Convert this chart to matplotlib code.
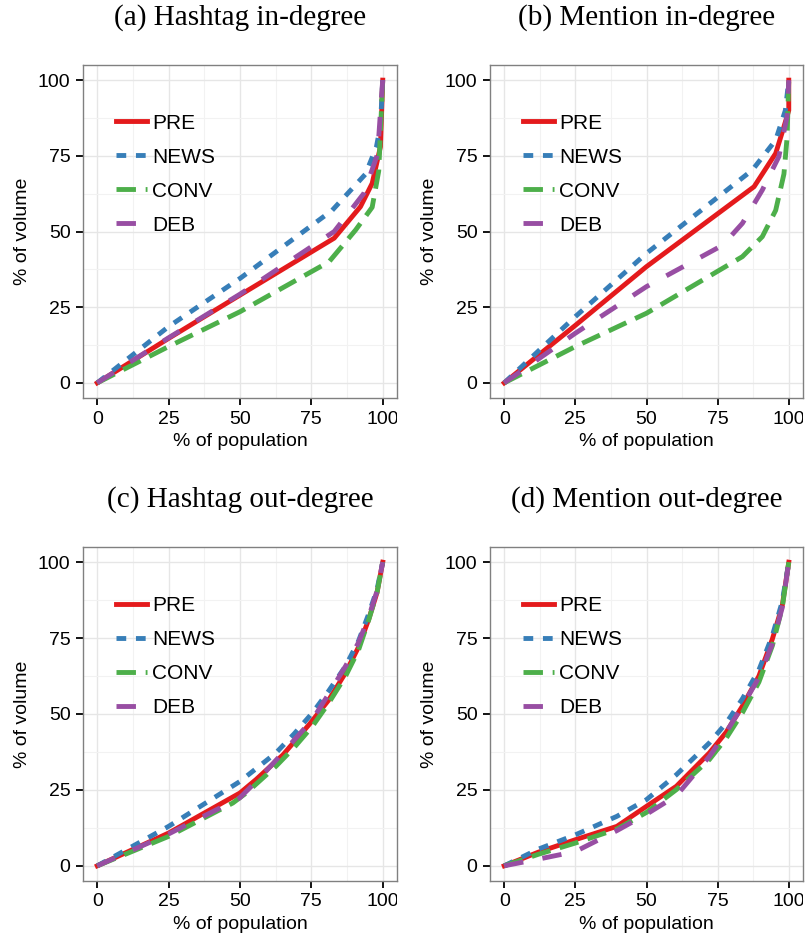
import matplotlib.pyplot as plt
from matplotlib.transforms import Bbox, TransformedBbox

# Lorenz-style curves: % of population (x) vs % of volume (y)
series = ["PRE", "NEWS", "CONV", "DEB"]
colors = ["#E41A1C", "#377EB8", "#4DAF4A", "#984EA3"]
styles = ["-", (0, (2, 2)), (0, (4, 2)), (0, (4, 4))]

# (a) Hashtag in-degree
a_pre_x = [0, 25, 50, 83, 92.2, 96.3, 99.2, 100]
a_pre_y = [0, 14.7, 29, 47.8, 58.2, 65.9, 78, 100]
a_news_x = [0, 25, 50, 82.3, 94, 97.8, 99.2, 100]
a_news_y = [0, 18.6, 34.5, 57, 69, 78, 85, 100]
a_conv_x = [0, 25, 50, 81.2, 90.5, 96.3, 98.6, 100]
a_conv_y = [0, 12, 23.5, 40, 50.5, 58, 70, 100]
a_deb_x = [0, 25, 50, 83, 93.4, 98.2, 99.6, 100]
a_deb_y = [0, 14.9, 29.3, 50, 62.6, 75.6, 95, 100]

# (b) Mention in-degree
b_pre_x = [0, 25, 50, 87.8, 95.4, 98.3, 100, 100]
b_pre_y = [0, 19, 38.4, 64.8, 75.8, 84.6, 90, 100]
b_news_x = [0, 25, 50, 87.2, 95.4, 98.8, 100]
b_news_y = [0, 21.9, 42.8, 70.3, 80.2, 90, 100]
b_conv_x = [0, 25, 50, 83.7, 90.7, 95.4, 98.3, 99.4, 100]
b_conv_y = [0, 12, 23, 41.7, 48.3, 57, 69, 81, 100]
b_deb_x = [0, 25, 50, 76.8, 83.7, 90.7, 96.5, 99.4, 100]
b_deb_y = [0, 16.4, 31.8, 45.5, 52.7, 63.7, 74.7, 88, 100]

# (c) Hashtag out-degree
c_pre_x = [0, 25, 50, 55.6, 65, 74.2, 81, 87, 91.5, 95.1, 98, 100]
c_pre_y = [0, 10.8, 24, 28.4, 36.5, 46.5, 54.5, 63.6, 72, 81.2, 90, 100]
c_news_x = [0, 25, 50, 62.6, 69, 75.4, 81, 87, 91.5, 95.1, 98, 100]
c_news_y = [0, 13, 27.8, 37.2, 43.5, 50.4, 57.5, 65.8, 74, 83, 91, 100]
c_conv_x = [0, 25, 47.5, 52.2, 62.6, 69, 75.4, 81, 87, 91.5, 95.1, 98, 100]
c_conv_y = [0, 9.7, 20.7, 24, 32.8, 39, 46, 53.5, 62.5, 71, 81, 90, 100]
c_deb_x = [0, 25, 49.8, 57, 63.8, 69.5, 75.4, 81, 87, 91.5, 95.1, 98, 100]
c_deb_y = [0, 10.5, 22.3, 29, 36, 42, 48.2, 56.5, 65.8, 73.5, 82, 90.5, 100]

# (d) Mention out-degree
d_pre_x = [0, 12, 25, 39.6, 50, 60.5, 72.1, 78, 83.7, 89.5, 94.2, 97.7, 100]
d_pre_y = [0, 4.5, 8.6, 13, 19.6, 26.2, 37.2, 44, 52.6, 62.5, 74.6, 85.6, 100]
d_news_x = [0, 12, 25, 39.6, 50, 60.5, 72.1, 78, 83.7, 89.5, 94.2, 97.7, 100]
d_news_y = [0, 5.5, 10.2, 16.3, 21.8, 30, 40.5, 47, 55, 64.5, 75.7, 87, 100]
d_conv_x = [0, 12, 25, 39.6, 50, 60.5, 72.1, 78, 83.7, 89.5, 94.2, 97.7, 100]
d_conv_y = [0, 3.8, 7.5, 12.1, 17.6, 25.1, 35, 42, 50.4, 60.5, 72.4, 85, 100]
d_deb_x = [0, 12, 25, 39.6, 50, 60.5, 72.1, 78, 83.7, 89.5, 94.2, 97.7, 100]
d_deb_y = [0, 2.2, 4.7, 11.6, 17, 23.1, 36, 44, 52.6, 62, 73, 85, 100]

panels = [
    ("(a) Hashtag in-degree", [(a_pre_x, a_pre_y), (a_news_x, a_news_y), (a_conv_x, a_conv_y), (a_deb_x, a_deb_y)]),
    ("(b) Mention in-degree", [(b_pre_x, b_pre_y), (b_news_x, b_news_y), (b_conv_x, b_conv_y), (b_deb_x, b_deb_y)]),
    ("(c) Hashtag out-degree", [(c_pre_x, c_pre_y), (c_news_x, c_news_y), (c_conv_x, c_conv_y), (c_deb_x, c_deb_y)]),
    ("(d) Mention out-degree", [(d_pre_x, d_pre_y), (d_news_x, d_news_y), (d_conv_x, d_conv_y), (d_deb_x, d_deb_y)]),
]
ticks = [0, 25, 50, 75, 100]

W, H = 807, 939
plt.rcParams["font.family"] = ["Liberation Sans", "DejaVu Sans"]
fig = plt.figure(figsize=(W / 100, H / 100), dpi=100)

# panel boxes in pixels: left, top, right, bottom
boxes = [(83, 65, 397, 398), (490, 65, 803, 398), (83, 547, 397, 881), (490, 547, 803, 881)]

for (title, data), (l, t, r, b) in zip(panels, boxes):
    ax = fig.add_axes([l / W, 1 - b / H, (r - l) / W, (b - t) / H])
    for (x, y), name, c, ls in zip(data, series, colors, styles):
        ax.plot(x, y, color=c, linestyle=ls, linewidth=3.5, label=name)
    ax.set_xlim(-5, 105)
    ax.set_ylim(-5, 105)
    ax.set_xticks(ticks)
    ax.set_yticks(ticks)
    ax.set_xticks([12.5, 37.5, 62.5, 87.5], minor=True)
    ax.set_yticks([12.5, 37.5, 62.5, 87.5], minor=True)
    ax.grid(which="major", color="#e6e6e6", linewidth=1.0)
    ax.grid(which="minor", color="#f2f2f2", linewidth=0.8)
    ax.set_axisbelow(True)
    ax.tick_params(which="major", length=5, width=1.3, color="black",
                   labelsize=14, pad=4)
    ax.tick_params(which="minor", length=0)
    for s in ax.spines.values():
        s.set_color("#808080")
        s.set_linewidth(1.0)
    ax.set_xlabel("% of population", fontsize=14, labelpad=4)
    ax.set_ylabel("% of volume", fontsize=14, labelpad=5)
    ax.legend(loc="upper left", bbox_to_anchor=(0.045, 0.91), frameon=False,
              fontsize=15, handlelength=1.5, handletextpad=0.25,
              labelspacing=0.72)
    # right-most tick label is cut off at the panel edge
    clip = TransformedBbox(Bbox([[0, 0], [r / W, 1]]), fig.transFigure)
    for lbl in ax.get_xticklabels():
        lbl.set_clip_box(clip)
        lbl.set_clip_on(True)
    fig.text((l + r) / 2 / W, 1 - (t - 47) / H, title, ha="center", va="center",
             fontsize=21, family="Liberation Serif")

fig.savefig("out.png", dpi=100)
